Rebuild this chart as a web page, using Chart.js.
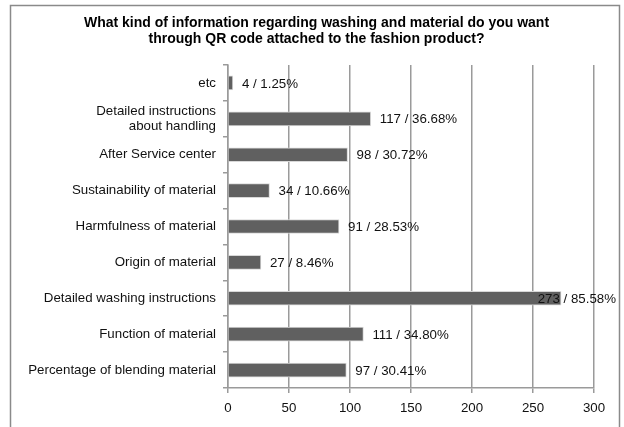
<!DOCTYPE html>
<html>
<head>
<meta charset="utf-8">
<script src="https://cdn.jsdelivr.net/npm/chart.js@4"></script>
<style>
html,body{margin:0;padding:0;background:#fff;}
#wrap{width:624px;height:427px;position:relative;}
</style>
</head>
<body>
<div id="wrap"><canvas id="c" width="624" height="427"></canvas></div>
<script>
const titleLines = ['What kind of information regarding washing and material do you want', 'through QR code attached to the fashion product?'];
const categories = [
  'etc',
  ['Detailed instructions', 'about handling'],
  'After Service center',
  'Sustainability of material',
  'Harmfulness of material',
  'Origin of material',
  'Detailed washing instructions',
  'Function of material',
  'Percentage of blending material'
];
const counts = [4, 117, 98, 34, 91, 27, 273, 111, 97];
const percents = [1.25, 36.68, 30.72, 10.66, 28.53, 8.46, 85.58, 34.80, 30.41];
const xTicks = [0, 50, 100, 150, 200, 250, 300];

const FONT = '"Liberation Sans", Arial, sans-serif';
const BODY = 13.3;

const framePlugin = {
  id: 'frame',
  beforeDraw(chart) {
    const ctx = chart.ctx;
    ctx.save();
    ctx.fillStyle = '#fff';
    ctx.fillRect(0, 0, chart.width, chart.height);
    ctx.strokeStyle = '#8a8a8a';
    ctx.lineWidth = 1.5;
    ctx.strokeRect(10.5, 5.5, 609, 440);
    ctx.restore();
  },
  afterDraw(chart) {
    // chart title, centred in the outer frame
    const ctx = chart.ctx;
    ctx.save();
    ctx.font = 'bold 14px ' + FONT;
    ctx.fillStyle = '#000';
    ctx.textAlign = 'center';
    ctx.textBaseline = 'middle';
    titleLines.forEach((t, i) => ctx.fillText(t, 316.5, 23 + i * 16));
    ctx.restore();
  }
};

const labelPlugin = {
  id: 'barLabels',
  afterDatasetsDraw(chart) {
    const ctx = chart.ctx;
    const meta = chart.getDatasetMeta(0);
    const area = chart.chartArea;
    ctx.save();
    ctx.font = BODY + 'px ' + FONT;
    ctx.fillStyle = '#111';
    ctx.textBaseline = 'middle';
    ctx.textAlign = 'left';
    meta.data.forEach((bar, i) => {
      const text = counts[i] + ' / ' + percents[i].toFixed(2) + '%';
      const w = ctx.measureText(text).width;
      let x = bar.x + 9;
      const maxRight = area.right + 22;
      if (x + w > maxRight) x = maxRight - w;
      ctx.fillText(text, x, bar.y + 1);
    });
    ctx.restore();
  }
};

new Chart(document.getElementById('c'), {
  type: 'bar',
  data: {
    labels: categories,
    datasets: [{
      data: counts,
      backgroundColor: '#606060',
      borderColor: '#d8d8d8',
      borderWidth: 1,
      barThickness: 14
    }]
  },
  options: {
    indexAxis: 'y',
    responsive: false,
    animation: false,
    devicePixelRatio: 1,
    layout: { padding: { top: 65, right: 30, bottom: 0, left: 0 } },
    plugins: {
      legend: { display: false },
      tooltip: { enabled: false },
      title: { display: false }
    },
    scales: {
      x: {
        min: 0,
        max: 300,
        afterBuildTicks(scale) { scale.ticks = xTicks.map(v => ({ value: v })); },
        afterFit(scale) { scale.height = 39; },
        grid: {
          color: '#9a9a9a',
          lineWidth: 1.5,
          drawTicks: true,
          tickLength: 5,
          tickColor: '#9a9a9a'
        },
        border: { color: '#9a9a9a', width: 1.5 },
        ticks: {
          color: '#111',
          font: { family: FONT, size: BODY },
          padding: 7,
          maxRotation: 0
        }
      },
      y: {
        afterFit(scale) { scale.width = 228; },
        grid: {
          drawOnChartArea: false,
          drawTicks: true,
          tickLength: 5,
          tickColor: '#9a9a9a',
          lineWidth: 1.5,
          offset: true
        },
        border: { color: '#9a9a9a', width: 1.5 },
        ticks: {
          color: '#111',
          font: { family: FONT, size: BODY, lineHeight: 1.13 },
          padding: 7,
          autoSkip: false
        }
      }
    }
  },
  plugins: [framePlugin, labelPlugin]
});
</script>
</body>
</html>
